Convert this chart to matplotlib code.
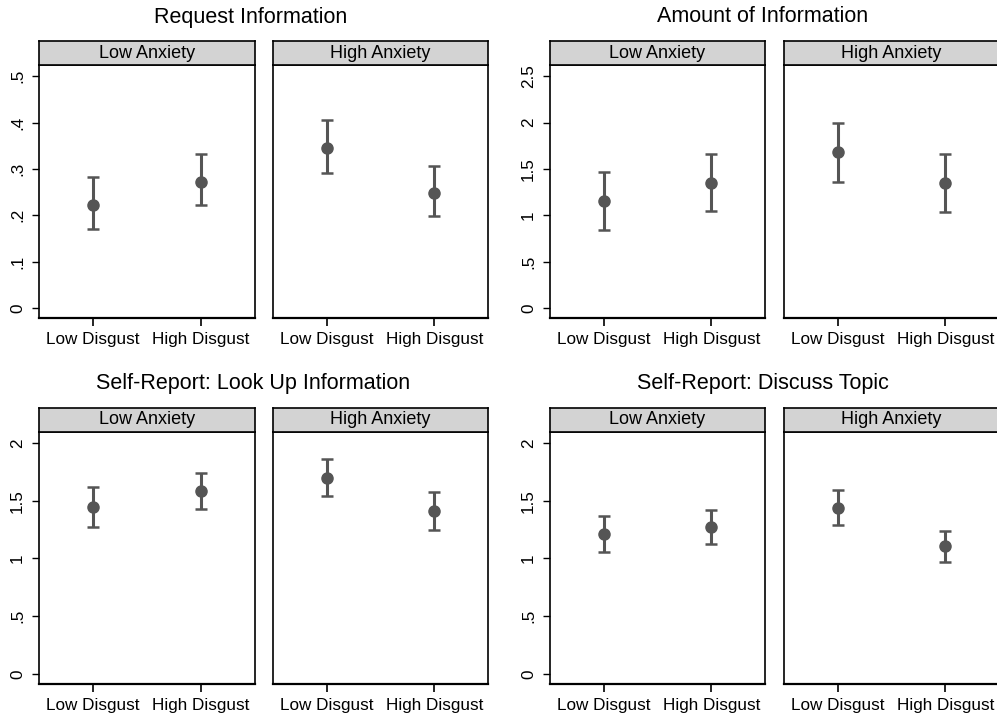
"""
Four faceted dot-and-whisker panels: means with confidence intervals
by disgust condition, split by anxiety condition.
Output: out.png
"""

import matplotlib
matplotlib.use("Agg")
import matplotlib.pyplot as plt

plt.rcParams["font.family"] = ["Liberation Sans", "DejaVu Sans"]

CONDITIONS = ["Low Disgust", "High Disgust"]
FACETS = ["Low Anxiety", "High Anxiety"]

# Request Information
req_mean = [[0.222, 0.272], [0.346, 0.249]]
req_lo = [[0.171, 0.223], [0.292, 0.199]]
req_hi = [[0.282, 0.331], [0.406, 0.307]]

# Amount of Information
amt_mean = [[1.157, 1.347], [1.677, 1.347]]
amt_lo = [[0.837, 1.045], [1.361, 1.031]]
amt_hi = [[1.462, 1.656], [1.994, 1.659]]

# Self-Report: Look Up Information
look_mean = [[1.447, 1.585], [1.697, 1.412]]
look_lo = [[1.274, 1.427], [1.542, 1.245]]
look_hi = [[1.617, 1.744], [1.859, 1.573]]

# Self-Report: Discuss Topic
disc_mean = [[1.210, 1.271], [1.441, 1.110]]
disc_lo = [[1.058, 1.127], [1.291, 0.971]]
disc_hi = [[1.369, 1.418], [1.591, 1.239]]

req_ticks = [0, 0.1, 0.2, 0.3, 0.4, 0.5]
req_ticklabels = ["0", ".1", ".2", ".3", ".4", ".5"]
amt_ticks = [0, 0.5, 1, 1.5, 2, 2.5]
amt_ticklabels = ["0", ".5", "1", "1.5", "2", "2.5"]
sr_ticks = [0, 0.5, 1, 1.5, 2]
sr_ticklabels = ["0", ".5", "1", "1.5", "2"]

W, H = 997, 717
INK = "#555555"


def px_rect(x0, y0, x1, y1):
    """Pixel box (top-left origin) -> figure fraction rect."""
    return [x0 / W, (H - y1) / H, (x1 - x0) / W, (y1 - y0) / H]


def draw_group(fig, title, title_x, y_top, xs, means, los, his,
               ticks, ticklabels, ylim):
    strip_top, plot_top, plot_bot = y_top
    fig.text(title_x / W, 1 - (strip_top - 24) / H, title,
             ha="center", va="center", fontsize=15.5)
    for k, (x0, x1) in enumerate(xs):
        ax = fig.add_axes(px_rect(x0, plot_top, x1, plot_bot))
        pos = [1, 2]
        m = means[k]
        lo = [m[i] - los[k][i] for i in range(2)]
        hi = [his[k][i] - m[i] for i in range(2)]
        ax.errorbar(pos, m, yerr=[lo, hi], fmt="o", color=INK,
                    ecolor=INK, elinewidth=2.2, capsize=4.5, capthick=1.8,
                    markersize=8)
        ax.set_xlim(0.5, 2.5)
        ax.set_ylim(*ylim)
        ax.set_xticks(pos)
        ax.set_xticklabels(CONDITIONS, fontsize=12.3)
        ax.tick_params(axis="x", length=6, width=1.2, pad=4)
        if k == 0:
            ax.set_yticks(ticks)
            ax.set_yticklabels(ticklabels, fontsize=12.3, rotation=90,
                               va="center")
            ax.tick_params(axis="y", length=5, width=1.0, pad=5)
        else:
            ax.set_yticks([])
        for s in ax.spines.values():
            s.set_linewidth(1.2)
        ax.spines["bottom"].set_linewidth(1.6)

        sax = fig.add_axes(px_rect(x0, strip_top, x1, plot_top))
        sax.set_facecolor("#d3d3d3")
        sax.set_xticks([])
        sax.set_yticks([])
        for s in sax.spines.values():
            s.set_linewidth(1.2)
        sax.text(0.5, 0.5, FACETS[k], ha="center", va="center",
                 fontsize=13, transform=sax.transAxes)


fig = plt.figure(figsize=(W / 100, H / 100), dpi=100)

left_x = [(39, 255), (273, 488)]
right_x = [(550, 765), (784, 999)]
top_y = (41, 65, 318)
bot_y = (408, 432, 684)

draw_group(fig, "Request Information", 251, top_y, left_x,
           req_mean, req_lo, req_hi, req_ticks, req_ticklabels,
           (-0.0216, 0.524))
draw_group(fig, "Amount of Information", 763, top_y, right_x,
           amt_mean, amt_lo, amt_hi, amt_ticks, amt_ticklabels,
           (-0.108, 2.62))
draw_group(fig, "Self-Report: Look Up Information", 253, bot_y, left_x,
           look_mean, look_lo, look_hi, sr_ticks, sr_ticklabels,
           (-0.0864, 2.095))
draw_group(fig, "Self-Report: Discuss Topic", 763, bot_y, right_x,
           disc_mean, disc_lo, disc_hi, sr_ticks, sr_ticklabels,
           (-0.0864, 2.095))

fig.savefig("out.png", dpi=100)
